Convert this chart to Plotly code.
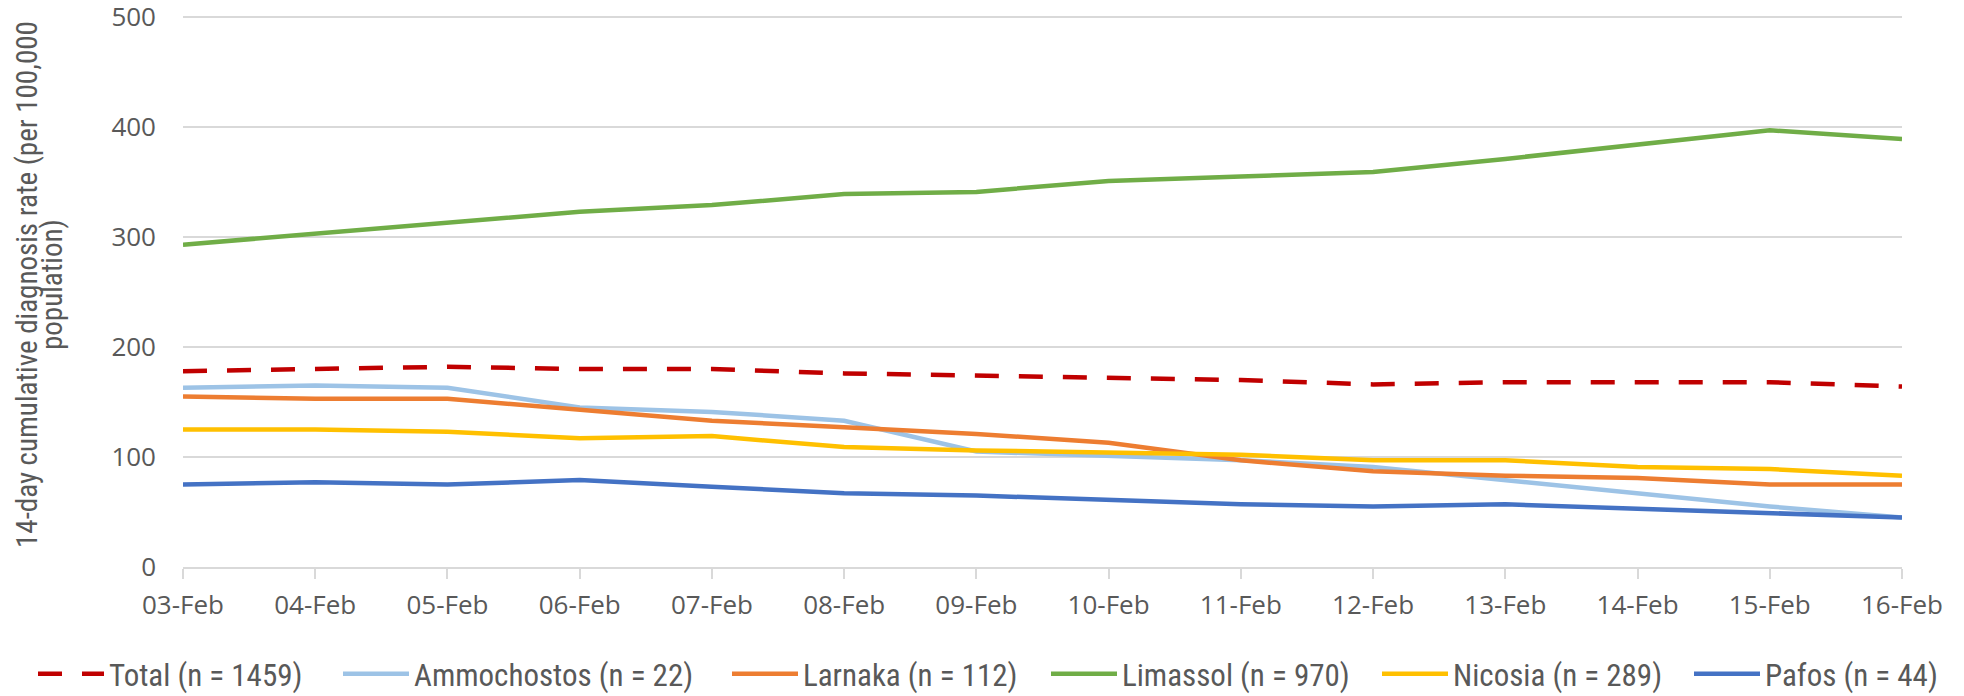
import plotly.graph_objects as go

dates = ["03-Feb", "04-Feb", "05-Feb", "06-Feb", "07-Feb", "08-Feb", "09-Feb",
         "10-Feb", "11-Feb", "12-Feb", "13-Feb", "14-Feb", "15-Feb", "16-Feb"]

total = [178, 180, 182, 180, 180, 176, 174, 172, 170, 166, 168, 168, 168, 164]
ammochostos = [163, 165, 163, 145, 141, 133, 105, 101, 97, 91, 79, 67, 55, 45]
larnaka = [155, 153, 153, 143, 133, 127, 121, 113, 97, 87, 83, 81, 75, 75]
limassol = [293, 303, 313, 323, 329, 339, 341, 351, 355, 359, 371, 384, 397, 389]
nicosia = [125, 125, 123, 117, 119, 109, 106, 104, 102, 97, 97, 91, 89, 83]
pafos = [75, 77, 75, 79, 73, 67, 65, 61, 57, 55, 57, 53, 49, 45]

y_ticks = [0, 100, 200, 300, 400, 500]
y_title_lines = ["14-day cumulative diagnosis rate (per 100,000", "population)"]

series = [
    ("Total (n = 1459)", total, "#C00000", "24px,20px"),
    ("Ammochostos (n = 22)", ammochostos, "#9DC3E6", "solid"),
    ("Larnaka (n = 112)", larnaka, "#ED7D31", "solid"),
    ("Limassol (n = 970)", limassol, "#70AD47", "solid"),
    ("Nicosia (n = 289)", nicosia, "#FFC000", "solid"),
    ("Pafos (n = 44)", pafos, "#4472C4", "solid"),
]

# page offset from the default 8px body margin
OFF = 8
W, H = 1964, 696
# plot area in page pixels (top extended 2px so the 500 gridline is drawn)
PX0, PX1, PY0, PY1 = 183, 1902, 15, 567
L, T = PX0 - OFF, PY0 - OFF
R, B = W - (PX1 - OFF), H - (PY1 - OFF)
pw, ph = PX1 - PX0, PY1 - PY0
y_max = 500 * ph / (PY1 - 17)

legend_starts = [38, 343, 732, 1051, 1382, 1694]  # page px of legend symbols
legend_y_page = 674

narrow = "Liberation Sans Narrow, Roboto Condensed, sans-serif"
tickf = dict(family="Open Sans, sans-serif", size=26, color="#595959")

fig = go.Figure()
legend_layouts = {}
for i, (name, vals, color, dash) in enumerate(series):
    key = "legend" if i == 0 else f"legend{i + 1}"
    fig.add_trace(go.Scatter(
        x=dates, y=vals, mode="lines", name=name, legend=key,
        line=dict(color=color, width=4.5, dash=dash),
    ))
    legend_layouts[key] = dict(
        orientation="h", xref="container", yref="container",
        x=(legend_starts[i] - OFF - 5) / W, xanchor="left",
        y=1 - (legend_y_page - OFF) / H, yanchor="middle",
        font=dict(family=narrow, size=31, color="#595959"),
        itemwidth=66, bgcolor="rgba(0,0,0,0)",
    )

fig.update_layout(
    width=W, height=H,
    margin=dict(l=L, r=R, t=T, b=B),
    paper_bgcolor="white", plot_bgcolor="white",
    showlegend=True,
    xaxis=dict(
        type="category", range=[0, 13], automargin=False,
        showgrid=False, showline=True, linecolor="#D9D9D9", linewidth=1.5,
        ticks="outside", ticklen=10, tickcolor="#D9D9D9", tickwidth=1.5,
        tickfont=tickf, ticklabelstandoff=4, ticklabeloverflow="allow",
        zeroline=False,
    ),
    yaxis=dict(
        range=[0, y_max], tickvals=y_ticks, automargin=False,
        showgrid=True, gridcolor="#D9D9D9", gridwidth=1.5,
        showline=False, zeroline=False, ticks="",
        tickfont=tickf, ticklabelstandoff=26, ticklabeloverflow="allow",
    ),
    **legend_layouts,
)

# y-axis title as two rotated, centred text lines
title_y_page = 285
for text, xpx in zip(y_title_lines, [27, 52]):
    fig.add_annotation(
        text=text, textangle=-90, showarrow=False,
        xref="paper", yref="paper",
        x=(xpx - PX0) / pw, y=(PY1 - title_y_page) / ph,
        xanchor="center", yanchor="middle",
        font=dict(family=narrow, size=29, color="#595959"),
    )

fig.write_html("out.html")
